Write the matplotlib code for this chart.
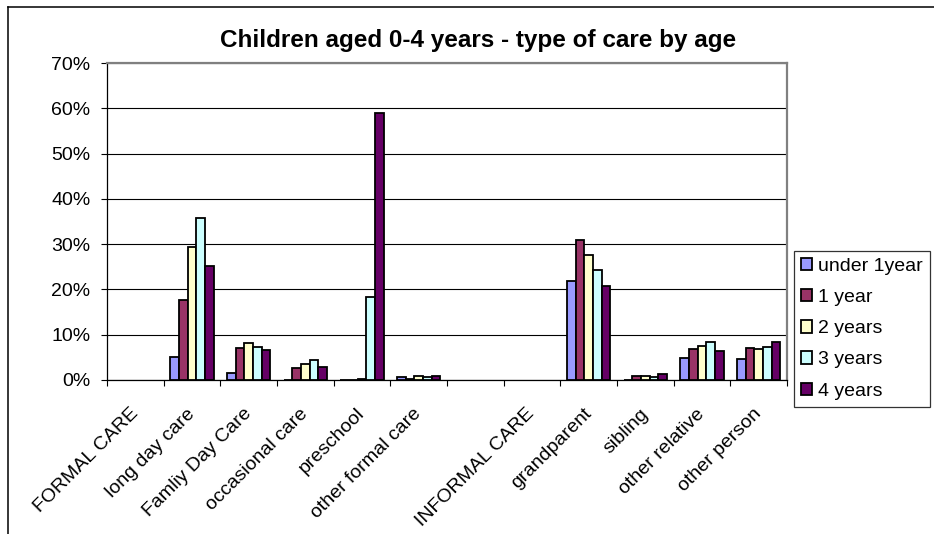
"""Children aged 0-4 years: type of care by age, grouped bar chart."""

import matplotlib

matplotlib.use("Agg")
import matplotlib.pyplot as plt
import numpy as np
from matplotlib.lines import Line2D
from matplotlib.ticker import FuncFormatter

plt.rcParams["font.family"] = ["Liberation Sans", "DejaVu Sans"]

CATEGORIES = [
    "FORMAL CARE", "long day care", "Famliy Day Care", "occasional care",
    "preschool", "other formal care", "", "INFORMAL CARE", "grandparent",
    "sibling", "other relative", "other person",
]
AGE_LABELS = ["under 1year", "1 year", "2 years", "3 years", "4 years"]
NA = np.nan
UNDER_1 = [NA, 5.0, 1.5, 0.0, 0.0, 0.7, NA, NA, 21.9, 0.1, 4.8, 4.6]
YEAR_1 = [NA, 17.7, 7.1, 2.7, 0.0, 0.3, NA, NA, 31.0, 0.9, 6.8, 7.1]
YEAR_2 = [NA, 29.3, 8.2, 3.5, 0.3, 0.9, NA, NA, 27.6, 0.95, 7.4, 6.9]
YEAR_3 = [NA, 35.7, 7.2, 4.4, 18.3, 0.6, NA, NA, 24.3, 0.6, 8.5, 7.2]
YEAR_4 = [NA, 25.2, 6.6, 2.8, 59.0, 0.8, NA, NA, 20.8, 1.4, 6.3, 8.5]
COLORS = ["#9999FF", "#993366", "#FFFFCC", "#CCFFFF", "#660066"]

W, H = 934, 534


def main() -> None:
    fig = plt.figure(figsize=(W / 100, H / 100), dpi=100)
    ax = fig.add_axes([107 / W, 1 - 380 / H, 680 / W, 317 / H])

    series = [UNDER_1, YEAR_1, YEAR_2, YEAR_3, YEAR_4]
    x = np.arange(len(CATEGORIES)) + 0.5
    width = 1 / 6.5
    handles = []
    for i, (values, color, label) in enumerate(zip(series, COLORS, AGE_LABELS)):
        bars = ax.bar(
            x + (i - 2) * width, values, width, color=color,
            edgecolor="black", linewidth=1.3, label=label, zorder=3,
        )
        handles.append(bars)

    ax.set_xlim(0, len(CATEGORIES))
    ax.set_ylim(0, 70)
    ax.set_yticks(np.arange(0, 71, 10))
    ax.yaxis.set_major_formatter(FuncFormatter(lambda v, _: f"{v:.0f}%"))
    ax.grid(axis="y", color="black", linewidth=0.8, zorder=0)

    # major ticks mark category boundaries, minor ticks carry the names
    ax.set_xticks(np.arange(len(CATEGORIES) + 1))
    ax.set_xticklabels([])
    ax.set_xticks(x, CATEGORIES, minor=True)
    ax.tick_params(axis="x", which="major", length=4, width=0.8, direction="out")
    ax.tick_params(axis="x", which="minor", length=0, pad=22.5)
    for lab in ax.get_xticklabels(minor=True):
        lab.set_rotation(45)
        lab.set_rotation_mode("anchor")
        lab.set_ha("right")
        lab.set_va("center")
        lab.set_fontsize(14)
    ax.tick_params(axis="y", length=4, width=0.8, pad=8, labelsize=14)

    for side in ("left", "bottom"):
        ax.spines[side].set_color("black")
        ax.spines[side].set_linewidth(0.9)
    for side in ("top", "right"):
        ax.spines[side].set_color("#808080")
        ax.spines[side].set_linewidth(1.6)

    fig.text(
        478 / W, 1 - 47 / H, "Children aged 0-4 years - type of care by age",
        ha="center", va="baseline", fontsize=17.5, fontweight="bold",
    )

    leg = fig.legend(
        handles=handles, loc="upper left",
        bbox_to_anchor=(794 / W, 1 - 251 / H), fontsize=14,
        frameon=True, fancybox=False, edgecolor="black",
        handlelength=0.6, handleheight=0.6, handletextpad=0.3,
        labelspacing=0.73, borderpad=0.35, borderaxespad=0,
    )
    leg.get_frame().set_linewidth(0.9)

    # chart-area border (left and top edges)
    fig.add_artist(Line2D([8 / W, 8 / W], [0, 1 - 7 / H], color="black", linewidth=1.1))
    fig.add_artist(Line2D([8 / W, 1], [1 - 7 / H, 1 - 7 / H], color="black", linewidth=1.1))

    fig.savefig("out.png", dpi=100)


if __name__ == "__main__":
    main()
